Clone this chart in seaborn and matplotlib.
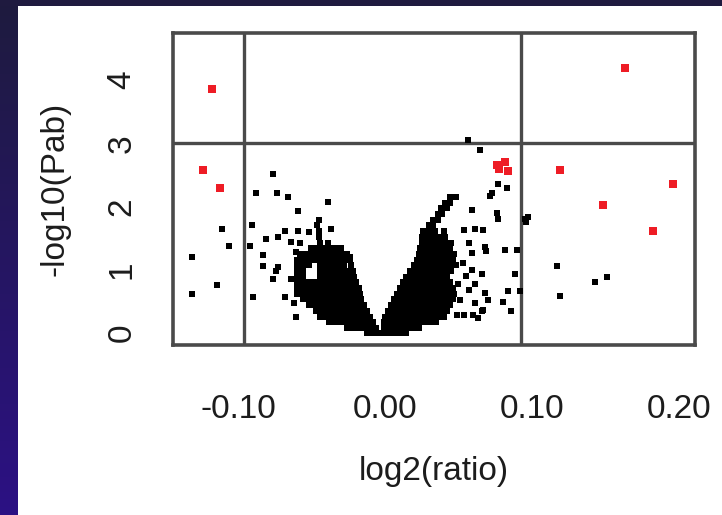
import numpy as np
import pandas as pd
import matplotlib
matplotlib.use("Agg")
import matplotlib.pyplot as plt
from matplotlib.colors import LinearSegmentedColormap
from matplotlib.patches import Rectangle
import seaborn as sns

# ---- data -------------------------------------------------------------
# Dense core of the left arm: log2 ratios listed per -log10(P) level
left_core_levels = [0.00, 0.08, 0.17, 0.26, 0.35, 0.44, 0.53, 0.62, 0.71, 0.80,
                    0.89, 0.98, 1.07, 1.16, 1.25, 1.34, 1.43]
left_core_ratios = [
    [-0.012, -0.008, -0.004, 0.000],
    [-0.026, -0.022, -0.018, -0.014, -0.010, -0.006],
    [-0.038, -0.034, -0.030, -0.026, -0.022, -0.018, -0.014, -0.010, -0.008],
    [-0.044, -0.040, -0.036, -0.032, -0.028, -0.024, -0.020, -0.016, -0.012, -0.010],
    [-0.047, -0.043, -0.039, -0.035, -0.031, -0.027, -0.023, -0.019, -0.015, -0.012],
    [-0.052, -0.048, -0.044, -0.040, -0.036, -0.032, -0.028, -0.024, -0.020, -0.016, -0.014],
    [-0.056, -0.052, -0.048, -0.044, -0.040, -0.036, -0.032, -0.028, -0.024, -0.020, -0.016],
    [-0.060, -0.056, -0.052, -0.048, -0.044, -0.040, -0.036, -0.032, -0.028, -0.024, -0.020, -0.017],
    [-0.060, -0.056, -0.052, -0.048, -0.044, -0.040, -0.036, -0.032, -0.028, -0.024, -0.020, -0.018],
    [-0.060, -0.056, -0.052, -0.048, -0.044, -0.040, -0.036, -0.032, -0.028, -0.024, -0.020],
    [-0.060, -0.056, -0.044, -0.040, -0.036, -0.032, -0.028, -0.024, -0.021],
    [-0.060, -0.056, -0.044, -0.040, -0.036, -0.032, -0.028, -0.024, -0.022],
    [-0.060, -0.056, -0.052, -0.044, -0.040, -0.036, -0.032, -0.028, -0.023],
    [-0.060, -0.056, -0.052, -0.048, -0.044, -0.040, -0.036, -0.032, -0.028, -0.024],
    [-0.058, -0.054, -0.050, -0.046, -0.042, -0.038, -0.034, -0.030, -0.026],
    [-0.050, -0.046, -0.042, -0.038, -0.034, -0.030],
    [-0.044, -0.039],
]

# Dense core of the right arm
right_core_levels = [0.00, 0.08, 0.17, 0.26, 0.35, 0.44, 0.53, 0.62, 0.71, 0.80,
                     0.89, 0.98, 1.07, 1.16, 1.25, 1.34, 1.43, 1.52, 1.61,
                     1.70, 1.79, 1.88, 1.97, 2.06, 2.15]
right_core_ratios = [
    [-0.002, 0.002, 0.006, 0.010, 0.014],
    [-0.001, 0.003, 0.007, 0.011, 0.015, 0.019, 0.023],
    [-0.001, 0.003, 0.007, 0.011, 0.015, 0.019, 0.023, 0.027, 0.031, 0.035],
    [0.000, 0.004, 0.008, 0.012, 0.016, 0.020, 0.024, 0.028, 0.032, 0.036, 0.040],
    [0.002, 0.006, 0.010, 0.014, 0.018, 0.022, 0.026, 0.030, 0.034, 0.038, 0.042],
    [0.004, 0.008, 0.012, 0.016, 0.020, 0.024, 0.028, 0.032, 0.036, 0.040, 0.044],
    [0.006, 0.010, 0.014, 0.018, 0.022, 0.026, 0.030, 0.034, 0.038, 0.042, 0.046],
    [0.008, 0.012, 0.016, 0.020, 0.024, 0.028, 0.032, 0.036, 0.040, 0.044, 0.047],
    [0.010, 0.014, 0.018, 0.022, 0.026, 0.030, 0.034, 0.038, 0.042, 0.046],
    [0.012, 0.016, 0.020, 0.024, 0.028, 0.032, 0.036, 0.040, 0.044],
    [0.014, 0.018, 0.022, 0.026, 0.030, 0.034, 0.038, 0.042],
    [0.017, 0.021, 0.025, 0.029, 0.033, 0.037, 0.041, 0.045],
    [0.020, 0.024, 0.028, 0.032, 0.036, 0.040, 0.044, 0.048],
    [0.022, 0.026, 0.030, 0.034, 0.038, 0.042, 0.046],
    [0.023, 0.027, 0.031, 0.035, 0.039, 0.043, 0.047],
    [0.024, 0.028, 0.032, 0.036, 0.040, 0.044],
    [0.025, 0.029, 0.033, 0.037, 0.041, 0.045],
    [0.025, 0.029, 0.033, 0.037, 0.041],
    [0.026, 0.030, 0.034, 0.040],
    [0.030, 0.033],
    [0.033, 0.036],
    [0.036, 0.039],
    [0.038, 0.042],
    [0.041, 0.044],
    [0.044, 0.048],
]

# Sparse proteins outside the dense core
sparse_ratio = [
    -0.111, -0.106, -0.131, -0.114, -0.131,
    -0.092, -0.0907, -0.090,
    -0.0765, -0.088, -0.0733, -0.0658, -0.039, -0.059,
    -0.068, -0.059, -0.052, -0.037, -0.081, -0.0726, -0.064, -0.058,
    -0.083, -0.083, -0.0726, -0.074, -0.076, -0.064, -0.0605,
    -0.068, -0.062, -0.0605, -0.024,
    -0.045, -0.045, -0.046, -0.045,
    0.0567, 0.0646, 0.0771, 0.0828, 0.0726, 0.0715,
    0.059, 0.0764, 0.077, 0.0955, 0.0975, 0.096,
    0.054, 0.061, 0.067, 0.057, 0.059, 0.068, 0.069,
    0.0816, 0.090,
    0.059, 0.066, 0.061, 0.068, 0.057, 0.061, 0.066, 0.054, 0.049, 0.0635,
    0.070, 0.051, 0.050, 0.053, 0.055,
    0.0884, 0.084, 0.0918, 0.0805, 0.0857, 0.067, 0.060,
    0.1172, 0.1508, 0.1429, 0.119,
]
sparse_logp = [
    1.65, 1.37, 1.20, 0.76, 0.62,
    1.38, 1.70, 0.57,
    2.52, 2.21, 2.22, 2.15, 2.07, 1.93,
    1.62, 1.62, 1.60, 1.64, 1.48, 1.52, 1.44, 1.43,
    1.24, 1.06, 1.05, 0.98, 0.85, 0.86, 1.28,
    0.57, 0.48, 0.26, 1.20,
    1.52, 1.61, 1.70, 1.79,
    3.05, 2.89, 2.36, 2.29, 2.21, 2.16,
    1.94, 1.90, 1.81, 1.80, 1.84, 1.76,
    1.63, 1.65, 1.63, 1.42, 1.26, 1.36, 1.30,
    1.31, 1.31,
    1.00, 0.94, 0.78, 0.63, 0.68, 0.47, 0.34, 0.28, 0.28, 0.23,
    0.52, 0.52, 0.78, 1.10, 0.90,
    0.94, 0.67, 0.67, 0.49, 0.34, 0.36, 0.29,
    1.06, 0.89, 0.80, 0.585,
]

# Significant proteins (highlighted)
hit_ratio = [-0.1175, -0.124, -0.112, 0.076, 0.0816, 0.084, 0.0778,
             0.1633, 0.119, 0.196, 0.1485, 0.182]
hit_logp = [3.85, 2.575, 2.30, 2.65, 2.71, 2.56, 2.60,
            4.19, 2.575, 2.35, 2.03, 1.62]

# Cut-offs
ratio_cut_low = -0.0958
ratio_cut_high = 0.0927
logp_cut = 3.0

x_ticks = [-0.10, -0.05, 0.00, 0.05, 0.10, 0.15, 0.20]
x_tick_labels = ["-0.10", "", "0.00", "", "0.10", "", "0.20"]
y_ticks = [0, 1, 2, 3, 4]

# ---- assemble ---------------------------------------------------------
bg_x, bg_y = [], []
for lvl, row in zip(left_core_levels, left_core_ratios):
    bg_x += row
    bg_y += [lvl] * len(row)
for lvl, row in zip(right_core_levels, right_core_ratios):
    bg_x += row
    bg_y += [lvl] * len(row)
bg_x += sparse_ratio
bg_y += sparse_logp

background = pd.DataFrame({"ratio": bg_x, "logp": bg_y})
hits = pd.DataFrame({"ratio": hit_ratio, "logp": hit_logp})

# ---- figure -----------------------------------------------------------
sns.set_style("white")
plt.rcParams["font.family"] = ["Liberation Sans", "DejaVu Sans"]

W, H = 722, 515
fig = plt.figure(figsize=(W / 100, H / 100), dpi=100)
fig.patch.set_facecolor("white")

# slide frame: gradient strip on the left, dark band on top
frame_cmap = LinearSegmentedColormap.from_list("frame", ["#1e1b3e", "#2c1184"])
strip = fig.add_axes([0, 0, 18 / W, 1])
strip.imshow(np.linspace(0, 1, 256).reshape(-1, 1), cmap=frame_cmap,
             aspect="auto", extent=[0, 1, 0, 1], origin="upper")
strip.set_axis_off()
fig.add_artist(Rectangle((0, 1 - 6 / H), 1, 6 / H, transform=fig.transFigure,
                         facecolor="#1f1a3f", edgecolor="none"))

ax = fig.add_axes([173 / W, 170 / H, 522 / W, 312 / H])
ax.set_facecolor("white")

line_col = "#4a4a4a"
ax.axvline(ratio_cut_low, color=line_col, lw=2.4, zorder=1)
ax.axvline(ratio_cut_high, color=line_col, lw=2.4, zorder=1)
ax.axhline(logp_cut, color=line_col, lw=2.4, zorder=1)

sns.scatterplot(data=background, x="ratio", y="logp", color="black",
                s=25, linewidth=0, marker="s", ax=ax, zorder=2)
sns.scatterplot(data=hits, x="ratio", y="logp", color="#ee1c25",
                s=30, linewidth=0, marker="s", ax=ax, zorder=3)

ax.set_xlim(-0.1442, 0.2109)
ax.set_ylim(-0.19, 4.743)

for sp in ax.spines.values():
    sp.set_visible(True)
    sp.set_color(line_col)
    sp.set_linewidth(2.6)

text_col = "#1c1c1c"
ax.set_xticks(x_ticks)
ax.set_xticklabels(x_tick_labels)
ax.set_yticks(y_ticks)
ax.set_yticklabels([str(v) for v in y_ticks])
ax.tick_params(axis="both", direction="out", length=13.5, width=2.2,
               color=line_col, labelsize=24, labelcolor=text_col)
ax.tick_params(axis="x", pad=22)
ax.tick_params(axis="y", pad=12, labelrotation=90)
for lbl in ax.get_yticklabels():
    lbl.set_va("center")

ax.set_xlabel("log2(ratio)", fontsize=24, color=text_col, labelpad=22)
ax.set_ylabel("-log10(Pab)", fontsize=24, color=text_col, labelpad=26)

fig.savefig("out.png", dpi=100, facecolor=fig.get_facecolor())
